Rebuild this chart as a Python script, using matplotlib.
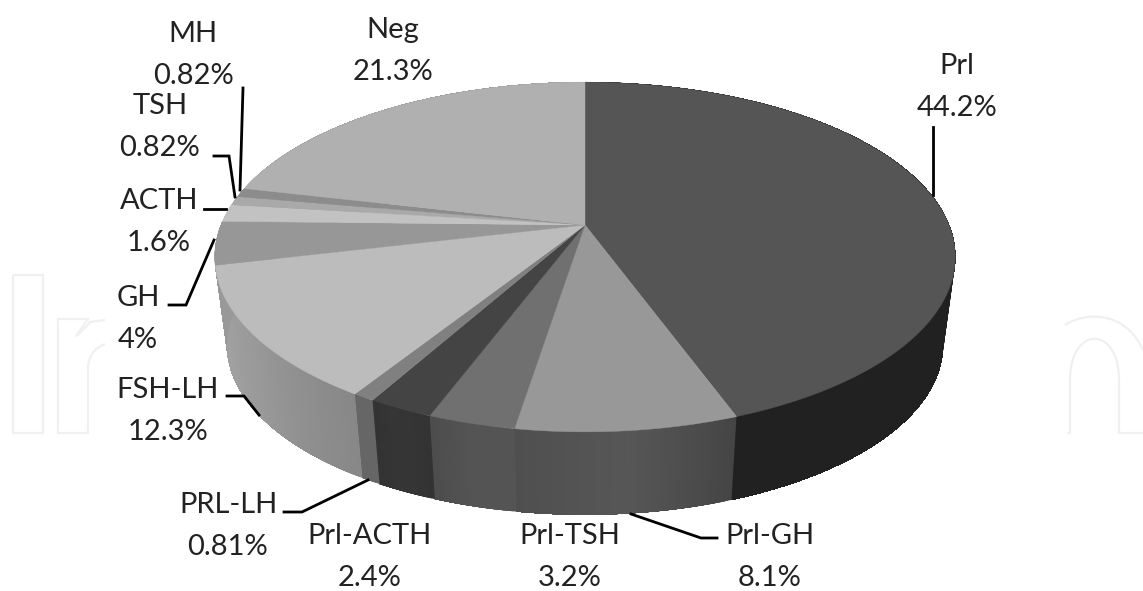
import numpy as np
from matplotlib import pyplot as plt
from matplotlib.path import Path
from matplotlib.patches import PathPatch

# pie data, clockwise from 12 o'clock
names = ['Prl', 'Prl-GH', 'Prl-TSH', 'Prl-ACTH', 'PRL-LH', 'FSH-LH', 'GH', 'ACTH', 'TSH', 'MH', 'Neg']
values = [44.2, 8.1, 3.2, 2.4, 0.81, 12.3, 4, 1.6, 0.82, 0.82, 21.3]
value_labels = ['44.2%', '8.1%', '3.2%', '2.4%', '0.81%', '12.3%', '4%', '1.6%', '0.82%', '0.82%', '21.3%']

# grey levels
top_cols = ['#555555', '#989898', '#707070', '#444444', '#808080', '#bcbcbc', '#979797', '#c2c2c2', '#a9a9a9', '#8c8c8c', '#b0b0b0']
wall_left = [0.13, 0.31, 0.30, 0.20, 0.40, 0.65, 0.6, 0.7, 0.6, 0.5, 0.6]   # at start angle
wall_right = [0.13, 0.27, 0.33, 0.20, 0.40, 0.53, 0.6, 0.7, 0.6, 0.5, 0.6]  # at end angle
wall_mid = [0.13, 0.34, 0.33, 0.21, 0.40, 0.60, 0.6, 0.7, 0.6, 0.5, 0.6]

# label centres in pixels
label_pos = [(957, 87), (770, 557), (570, 557), (370, 557), (228, 526), (168, 411), (138, 319), (159, 222), (160, 127), (193, 55), (393, 51)]

leaders = [
    [(933, 127), (933, 195)],
    [(631, 514), (701, 538), (717, 538)],
    [(284, 512), (302, 512), (368, 480)],
    [(227, 396), (244, 396), (259, 415)],
    [(169, 305), (186, 305), (214, 240)],
    [(204, 209), (226, 209)],
    [(214, 156), (229, 156), (235, 197)],
    [(243, 88), (240, 190)],
]

plt.rcParams['font.family'] = ['Lato', 'DejaVu Sans']

fig = plt.figure(figsize=(11.43, 5.91), dpi=100)
ax = fig.add_axes([0, 0, 1, 1])
ax.set_xlim(0, 1143)
ax.set_ylim(591, 0)
ax.axis('off')


def project(a, cy, rx, ry, cx=585, k=0.183):
    # circle to tilted disc, the centre is not the middle of the ellipse
    u, v = np.sin(a), np.cos(a)
    d = 1 + k * v
    return cx + rx * u / d, cy - ry * v / d


def top_disc(a):
    return project(a, 225, 364, 169)


def bottom_disc(a):
    return project(a, 314, 352, 164)


# watermark outlines
wm = '#f0f0f0'
C4 = Path.CURVE4
ax.add_patch(PathPatch(Path([(13, 275), (43, 275), (43, 433), (13, 433), (13, 275)]), fc='none', ec=wm, lw=1.6))
ax.add_patch(PathPatch(Path([(105, 320), (90, 322), (84, 330), (76, 336), (88, 319), (58, 319), (58, 433), (88, 433),
                             (88, 370), (88, 355), (95, 348), (105, 344)],
                            [1, 2, 3, 3, 2, 2, 2, 2, 2, C4, C4, C4]), fc='none', ec=wm, lw=1.6))
ax.add_patch(PathPatch(Path([(1067, 433), (1070, 433), (1070, 380), (1070, 325), (1119, 325), (1119, 380), (1119, 433), (1143, 433)],
                            [1, 2, 2, C4, C4, C4, 2, 2]), fc='none', ec=wm, lw=1.6))
ax.add_patch(PathPatch(Path([(1065, 325), (1085, 312), (1125, 310), (1143, 350)],
                            [1, C4, C4, C4]), fc='none', ec=wm, lw=1.6))

fracs = np.array(values) / np.sum(values)
edges = 2 * np.pi * np.concatenate([[0], np.cumsum(fracs)])

# side walls first, cut in thin strips for the shading
# every strip runs on to the end of the slice so no seams show between them
for i in range(len(values)):
    a0, a1 = edges[i], edges[i + 1]
    n = max(int((a1 - a0) / 0.008), 2)
    aa = np.linspace(a0, a1, n + 1)
    for j in range(n):
        t = (j + 0.5) / n
        # the slices run right to left along the front edge
        g = np.interp(t, [0, 0.5, 1], [wall_right[i], wall_mid[i], wall_left[i]])
        xt, yt = top_disc(aa[j:])
        xb, yb = bottom_disc(aa[j:])
        ax.fill(np.r_[xt, xb[::-1]], np.r_[yt, yb[::-1]], color=str(g), lw=0, zorder=2)

# top face
for i in range(len(values)):
    aa = np.linspace(edges[i], edges[i + 1], 200)
    x, y = top_disc(aa)
    ax.fill(np.r_[585, x], np.r_[225, y], color=top_cols[i], lw=0.3, zorder=3)

for pts in leaders:
    px, py = zip(*pts)
    ax.plot(px, py, color='black', lw=2, solid_joinstyle='miter', zorder=4)

for name, lab, (x, y) in zip(names, value_labels, label_pos):
    ax.text(x, y, name + '\n' + lab, ha='center', va='center', fontsize=21, color='#222222',
            linespacing=1.75, zorder=5)

fig.savefig('out.png', dpi=100)
